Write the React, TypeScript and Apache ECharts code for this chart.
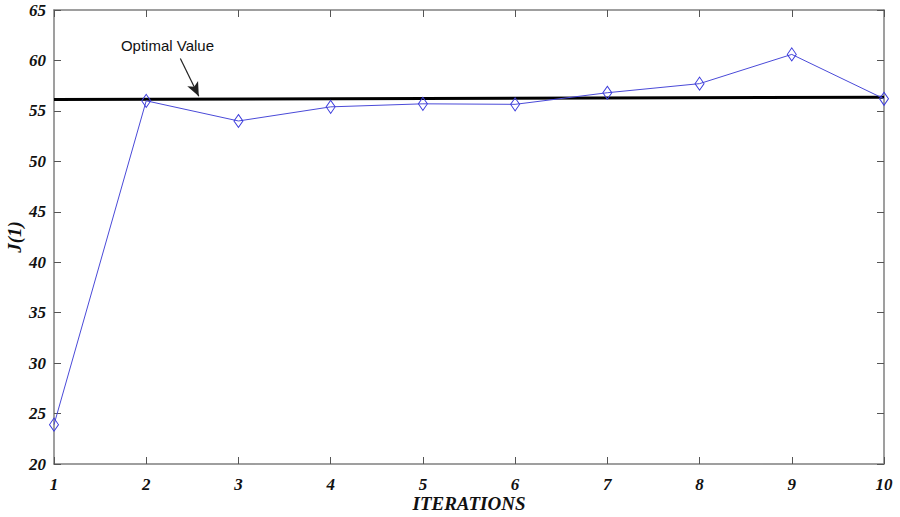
import React, { useEffect, useRef } from "react";
import * as echarts from "echarts";

const iterations = [1, 2, 3, 4, 5, 6, 7, 8, 9, 10];
const jValues = [23.9, 56.0, 54.0, 55.4, 55.7, 55.65, 56.8, 57.7, 60.6, 56.2];
const optimalX = [1, 10];
const optimalY = [56.12, 56.36];
const annotationText = "Optimal Value";
const annotationPos = [2.23, 61.45];
const arrowFrom = [2.37, 60.2];
const arrowTo = [2.57, 56.45];

const serif = "Liberation Serif";

export default function App() {
  const ref = useRef<HTMLDivElement>(null);
  useEffect(() => {
    if (!ref.current) return;
    const chart = echarts.init(ref.current, null, { renderer: "svg" });
    const axisLine = { show: true, lineStyle: { color: "#7f7f7f", width: 1.5 } };
    const tickLabel = {
      color: "#111",
      fontFamily: serif,
      fontWeight: "bold" as const,
      fontStyle: "italic" as const,
      fontSize: 17,
    };
    chart.setOption({
      animation: false,
      backgroundColor: "#fff",
      textStyle: { fontFamily: serif },
      grid: {
        left: 54,
        right: 16,
        top: 10,
        bottom: 53,
        containLabel: false,
        outerBoundsMode: "none",
      },
      xAxis: [
        {
          type: "value",
          min: 1,
          max: 10,
          interval: 1,
          position: "bottom",
          axisLine,
          axisTick: { show: true, inside: true, length: 7, lineStyle: { color: "#555" } },
          axisLabel: { ...tickLabel, margin: 12 },
          splitLine: { show: false },
          name: "ITERATIONS",
          nameLocation: "middle",
          nameGap: 30,
          nameMoveOverlap: false,
          nameTextStyle: { ...tickLabel, fontSize: 19 },
        },
        {
          type: "value",
          min: 1,
          max: 10,
          interval: 1,
          position: "top",
          axisLine,
          axisTick: { show: true, inside: true, length: 7, lineStyle: { color: "#555" } },
          axisLabel: { show: false },
          splitLine: { show: false },
        },
      ],
      yAxis: [
        {
          type: "value",
          min: 20,
          max: 65,
          interval: 5,
          position: "left",
          axisLine,
          axisTick: { show: true, inside: true, length: 7, lineStyle: { color: "#555" } },
          axisLabel: { ...tickLabel, margin: 8 },
          splitLine: { show: false },
          name: "J(1)",
          nameLocation: "middle",
          nameGap: 30,
          nameRotate: 90,
          nameMoveOverlap: false,
          nameTextStyle: { ...tickLabel, fontSize: 19 },
        },
        {
          type: "value",
          min: 20,
          max: 65,
          interval: 5,
          position: "right",
          axisLine,
          axisTick: { show: true, inside: true, length: 7, lineStyle: { color: "#555" } },
          axisLabel: { show: false },
          splitLine: { show: false },
        },
      ],
      series: [
        {
          type: "line",
          data: optimalX.map((x, i) => [x, optimalY[i]]),
          symbol: "none",
          lineStyle: { color: "#000", width: 3 },
          z: 2,
          markLine: {
            silent: true,
            symbol: ["none", "arrow"],
            symbolSize: [9, 14],
            lineStyle: { color: "#222", width: 1.2, type: "solid" },
            label: { show: false },
            data: [[{ coord: arrowFrom }, { coord: arrowTo }]],
          },
          markPoint: {
            silent: true,
            symbol: "rect",
            symbolSize: 1,
            itemStyle: { color: "transparent" },
            label: {
              show: true,
              position: "inside",
              formatter: annotationText,
              color: "#111",
              fontFamily: "Liberation Sans",
              fontSize: 15,
            },
            data: [{ coord: annotationPos }],
          },
        },
        {
          type: "line",
          data: iterations.map((x, i) => [x, jValues[i]]),
          symbol: "diamond",
          symbolSize: [9, 13],
          lineStyle: { color: "#4a4ad8", width: 1 },
          itemStyle: { color: "rgba(255,255,255,0)", borderColor: "#3c3cdc", borderWidth: 1 },
          z: 3,
        },
      ],
    });
    return () => chart.dispose();
  }, []);
  return (
    <div
      ref={ref}
      style={{ position: "fixed", left: 0, top: 0, width: 900, height: 517 }}
    />
  );
}
